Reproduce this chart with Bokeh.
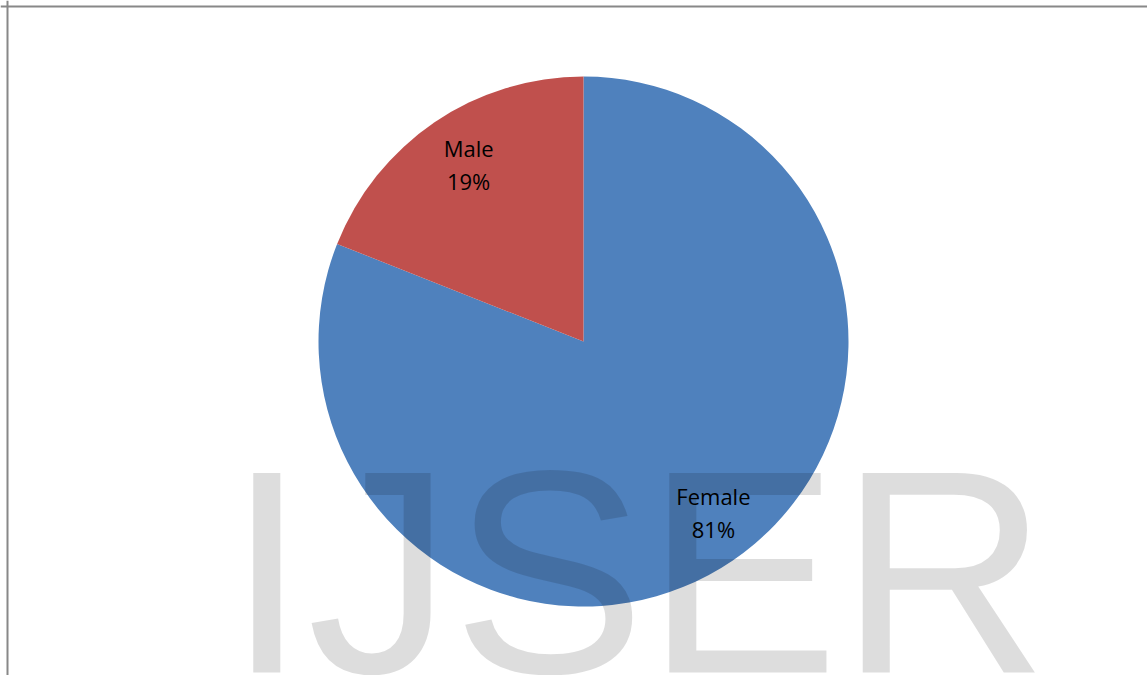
import math
from bokeh.plotting import figure
from bokeh.models import Range1d, ColumnDataSource, Span
from bokeh.core.properties import value
from bokeh.embed import file_html
from bokeh.resources import INLINE

# ---- data ----
categories = ["Female", "Male"]
values = [81, 19]
colors = ["#4F81BD", "#C0504D"]
watermark = "IJSER"

# ---- layout (frame units = screen pixels) ----
W, H = 1147, 675
cx, cy = 583, 334
R = 265
label_frac = 0.805
label_dx = [10, 5]      # small nudges of label blocks (screen px)
label_dy = [-3, 1]

total = float(sum(values))
starts, ends, lx, ly, names, pcts = [], [], [], [], [], []
a = math.pi / 2  # 12 o'clock, clockwise
for i, (cat, v) in enumerate(zip(categories, values)):
    sweep = 2 * math.pi * v / total
    starts.append(a)
    ends.append(a - sweep)
    mid = a - sweep / 2
    lx.append(cx + label_frac * R * math.cos(mid) + label_dx[i])
    ly.append(cy + label_frac * R * math.sin(mid) - label_dy[i])
    names.append(cat)
    pcts.append(f"{v / total * 100:.0f}%")
    a -= sweep

src = ColumnDataSource(dict(start=starts, end=ends, color=colors,
                            x=[cx] * len(values), y=[cy] * len(values),
                            lx=lx, ly=ly, name=names, pct=pcts))

p = figure(width=W, height=H, x_range=Range1d(0, W), y_range=Range1d(0, H),
           output_backend="svg", toolbar_location=None, min_border=0)
p.axis.visible = False
p.xgrid.visible = False
p.ygrid.visible = False
p.outline_line_color = None
p.background_fill_color = "white"
p.border_fill_color = "white"

p.wedge(x="x", y="y", radius=R, start_angle="start", end_angle="end",
        direction="clock", fill_color="color", line_color=None, source=src)

p.text(x="lx", y="ly", text="name", source=src, text_align="center",
       text_baseline="alphabetic", y_offset=-18.5, text_color="black",
       text_font=value("Open Sans"), text_font_size="22px")
p.text(x="lx", y="ly", text="pct", source=src, text_align="center",
       text_baseline="alphabetic", y_offset=14.5, text_color="black",
       text_font=value("Open Sans"), text_font_size="22px")

# watermark on top, translucent black
p.text(x=[226], y=[104], text=[watermark], text_align="left",
       text_baseline="alphabetic", text_color="black",
       text_alpha=0.135, text_font=value("Liberation Sans"),
       text_font_size="290px")

# frame border (top and left visible in reference)
p.add_layout(Span(location=H - 6, dimension="width", line_color="#888888", line_width=2))
p.add_layout(Span(location=7, dimension="height", line_color="#888888", line_width=2))

open("out.html", "w").write(file_html(p, INLINE))
